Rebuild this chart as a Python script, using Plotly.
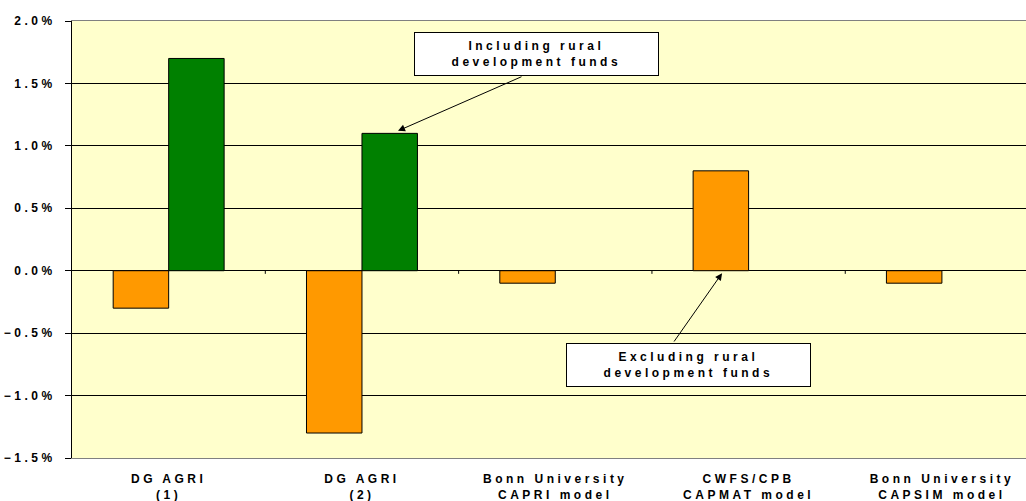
import plotly.graph_objects as go

categories = ["DG AGRI<br>(1)", "DG AGRI<br>(2)", "Bonn University<br>CAPRI model",
              "CWFS/CPB<br>CAPMAT model", "Bonn University<br>CAPSIM model"]
excluding_rdf = [-0.003, -0.013, -0.001, 0.008, -0.001]
including_rdf = [0.017, 0.011, None, None, None]
y_ticks = [-0.015, -0.010, -0.005, 0.0, 0.005, 0.010, 0.015, 0.020]

FONT = "Liberation Sans, Arial, sans-serif"

fig = go.Figure()
fig.add_trace(go.Bar(x=categories, y=excluding_rdf, name="Excluding rural development funds",
                     marker=dict(color="#FF9900", line=dict(color="#000000", width=1))))
fig.add_trace(go.Bar(x=categories, y=including_rdf, name="Including rural development funds",
                     marker=dict(color="#008000", line=dict(color="#000000", width=1))))

# small category-boundary ticks on the zero line
for b in [0.5, 1.5, 2.5, 3.5]:
    fig.add_shape(type="line", xref="x", yref="y", x0=b, x1=b, y0=0, y1=-0.00025,
                  line=dict(color="#000000", width=1))

ann_font = dict(family=FONT, size=12, color="#000000", weight=700)
fig.add_annotation(x=1.903, y=0.01736, xref="x", yref="y", showarrow=False,
                   text="Including rural<br>development funds", font=ann_font,
                   width=243, height=42, bgcolor="#FFFFFF", bordercolor="#000000",
                   borderwidth=1, borderpad=0, align="center")
fig.add_annotation(x=2.689, y=-0.00755, xref="x", yref="y", showarrow=False,
                   text="Excluding rural<br>development funds", font=ann_font,
                   width=243, height=42, bgcolor="#FFFFFF", bordercolor="#000000",
                   borderwidth=1, borderpad=0, align="center")
# arrows
fig.add_annotation(x=1.1865, y=0.0112, ax=1.833, ay=0.01559, xref="x", yref="y",
                   axref="x", ayref="y", text="", showarrow=True, arrowhead=2,
                   arrowsize=1.4, arrowwidth=1, arrowcolor="#000000", standoff=0)
fig.add_annotation(x=2.8627, y=-0.0002, ax=2.609, ay=-0.00579, xref="x", yref="y",
                   axref="x", ayref="y", text="", showarrow=True, arrowhead=2,
                   arrowsize=1.4, arrowwidth=1, arrowcolor="#000000", standoff=0)

fig.update_layout(
    width=1026, height=501,
    margin=dict(l=72, r=0, t=21, b=43),
    paper_bgcolor="#FFFFFF", plot_bgcolor="#FFFFCC",
    barmode="group", bargap=0.426, bargroupgap=0,
    showlegend=False,
    font=dict(family=FONT, size=12, color="#000000"),
    xaxis=dict(range=[-0.5, 4.435], showgrid=False, showline=True, linecolor="#808080",
               linewidth=1, mirror=True, ticks="", tickangle=0,
               tickfont=dict(family=FONT, size=12, color="#000000", weight=700),
               ticklabelstandoff=10, zeroline=False),
    yaxis=dict(range=[-0.015, 0.020], tickvals=y_ticks, tickformat=".1%",
               showgrid=True, gridcolor="#000000", gridwidth=1,
               zeroline=True, zerolinecolor="#000000", zerolinewidth=1,
               showline=True, linecolor="#000000", linewidth=1,
               ticks="outside", ticklen=6, tickcolor="#000000",
               tickfont=dict(family=FONT, size=12, color="#000000", weight=700),
               ticklabelstandoff=7),
)

post = """
var gd = document.getElementById('{plot_id}');
function ls(){
  gd.querySelectorAll('.xtick text, .ytick text, .annotation-text').forEach(function(t){
    t.style.letterSpacing = '3.5px';
  });
}
ls();
if (gd.on) { gd.on('plotly_afterplot', ls); }
"""

fig.write_html("out.html", post_script=post)
